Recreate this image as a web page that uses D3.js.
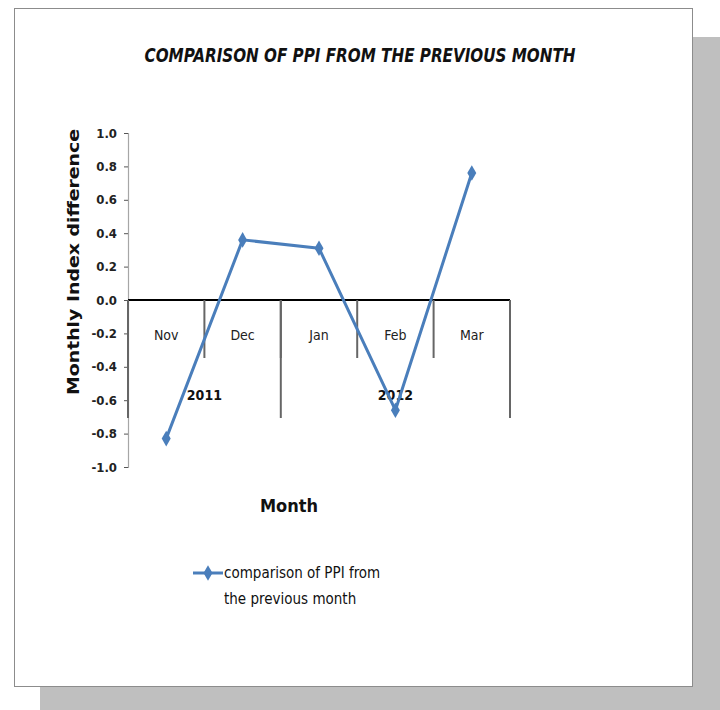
<!DOCTYPE html>
<html>
<head>
<meta charset="utf-8">
<script src="https://cdn.jsdelivr.net/npm/d3@7"></script>
<style>
  body { margin: 0; background: #fff; }
  text { font-family: "Liberation Sans Narrow", "DejaVu Sans Condensed", "Open Sans", sans-serif; }
</style>
</head>
<body>
<div id="container"></div>
<script>
// chart data
const months = ["Nov", "Dec", "Jan", "Feb", "Mar"]
const years = [{label: "2011", from: 0, to: 2}, {label: "2012", from: 2, to: 5}]
const values = [-0.83, 0.36, 0.31, -0.66, 0.76]
const yTicks = [1.0, 0.8, 0.6, 0.4, 0.2, 0.0, -0.2, -0.4, -0.6, -0.8, -1.0]

const width = 720
const height = 710
const blue = "#4a7ebb"

const svg = d3.create("svg")
  .attr("width", width)
  .attr("height", height)
container.append(svg.node())

// drop shadow and frame
svg.append("rect")
  .attr("x", 40).attr("y", 37).attr("width", 680).attr("height", 673)
  .style("fill", "#bfbfbf")
svg.append("rect")
  .attr("x", 14.5).attr("y", 8.5).attr("width", 678).attr("height", 678)
  .style("fill", "white").style("stroke", "#8c8c8c").style("stroke-width", 1)

// scales
const x = d3.scaleBand()
  .domain(months)
  .range([128, 510])

const y = d3.scaleLinear()
  .domain([-1, 1])
  .range([467, 133])

// title
svg.append("text")
  .attr("x", 360).attr("y", 62)
  .attr("text-anchor", "middle")
  .attr("textLength", 431).attr("lengthAdjust", "spacingAndGlyphs")
  .style("font-size", "20px").style("font-style", "italic").style("font-weight", "bold")
  .style("fill", "#111")
  .text("COMPARISON OF PPI FROM THE PREVIOUS MONTH")

// y axis
const yAxis = d3.axisLeft(y)
  .tickValues(yTicks)
  .tickSize(4)
  .tickFormat(d => d.toFixed(1))
const gy = svg.append("g")
  .attr("transform", "translate(128,0)")
  .call(yAxis)
gy.select(".domain").style("stroke", "#a6a6a6").style("stroke-width", 1.2)
gy.selectAll(".tick line").style("stroke", "#555")
gy.selectAll(".tick text")
  .attr("x", -11)
  .style("font-size", "13px").style("font-weight", "bold").style("fill", "#222")
  .style("font-family", "'DejaVu Sans Condensed', sans-serif")

// y axis title
svg.append("text")
  .attr("transform", "translate(79,262) rotate(-90)")
  .attr("text-anchor", "middle")
  .attr("textLength", 266).attr("lengthAdjust", "spacingAndGlyphs")
  .style("font-family", "'DejaVu Sans', sans-serif")
  .style("font-size", "15px").style("font-weight", "bold").style("fill", "#111")
  .text("Monthly Index difference")

// category axis at zero
const y0 = y(0)
const sep = "#666"
svg.append("line")
  .attr("x1", x.range()[0]).attr("x2", x.range()[1])
  .attr("y1", y0).attr("y2", y0)
  .style("stroke", "#000").style("stroke-width", 2)

// month separators (short)
svg.selectAll(".msep")
  .data(months.slice(1))
  .join("line")
  .attr("class", "msep")
  .attr("x1", d => x(d)).attr("x2", d => x(d))
  .attr("y1", y0).attr("y2", y0 + 58)
  .style("stroke", sep).style("stroke-width", 2)

// year separators (long)
const yearEdges = [0].concat(years.map(d => d.to))
svg.selectAll(".ysep")
  .data(yearEdges)
  .join("line")
  .attr("class", "ysep")
  .attr("x1", d => 128 + d * x.bandwidth()).attr("x2", d => 128 + d * x.bandwidth())
  .attr("y1", y0).attr("y2", y0 + 118)
  .style("stroke", sep).style("stroke-width", 2)

svg.selectAll(".mlabel")
  .data(months)
  .join("text")
  .attr("class", "mlabel")
  .attr("x", d => x(d) + x.bandwidth() / 2)
  .attr("y", y0 + 40)
  .attr("text-anchor", "middle")
  .style("font-size", "14px").style("fill", "#222")
  .text(d => d)

svg.selectAll(".ylabel")
  .data(years)
  .join("text")
  .attr("class", "ylabel")
  .attr("x", d => 128 + (d.from + d.to) / 2 * x.bandwidth())
  .attr("y", y0 + 100)
  .attr("text-anchor", "middle")
  .style("font-size", "14px").style("font-weight", "bold").style("fill", "#111")
  .text(d => d.label)

// x axis title
svg.append("text")
  .attr("x", 289).attr("y", 512)
  .attr("text-anchor", "middle")
  .style("font-size", "18px").style("font-weight", "bold").style("fill", "#111")
  .text("Month")

// series
const pts = values.map((v, i) => [x(months[i]) + x.bandwidth() / 2, y(v)])
svg.append("path")
  .attr("d", d3.line()(pts))
  .style("fill", "none").style("stroke", blue).style("stroke-width", 3)
  .style("stroke-linejoin", "round")

const diamond = d3.symbol().type(d3.symbolDiamond).size(70)
svg.selectAll(".pt")
  .data(pts)
  .join("path")
  .attr("class", "pt")
  .attr("transform", d => `translate(${d[0]},${d[1]})`)
  .attr("d", diamond)
  .style("fill", blue)

// legend
const lg = svg.append("g").attr("transform", "translate(193,573)")
lg.append("line")
  .attr("x1", 0).attr("x2", 30).attr("y1", 0).attr("y2", 0)
  .style("stroke", blue).style("stroke-width", 3)
lg.append("path")
  .attr("transform", "translate(15,0)")
  .attr("d", diamond)
  .style("fill", blue)
lg.append("text")
  .attr("x", 31).attr("y", 5)
  .style("font-size", "15px").style("fill", "#111")
  .text("comparison of PPI from")
lg.append("text")
  .attr("x", 31).attr("y", 31)
  .style("font-size", "15px").style("fill", "#111")
  .text("the previous month")
</script>
</body>
</html>
